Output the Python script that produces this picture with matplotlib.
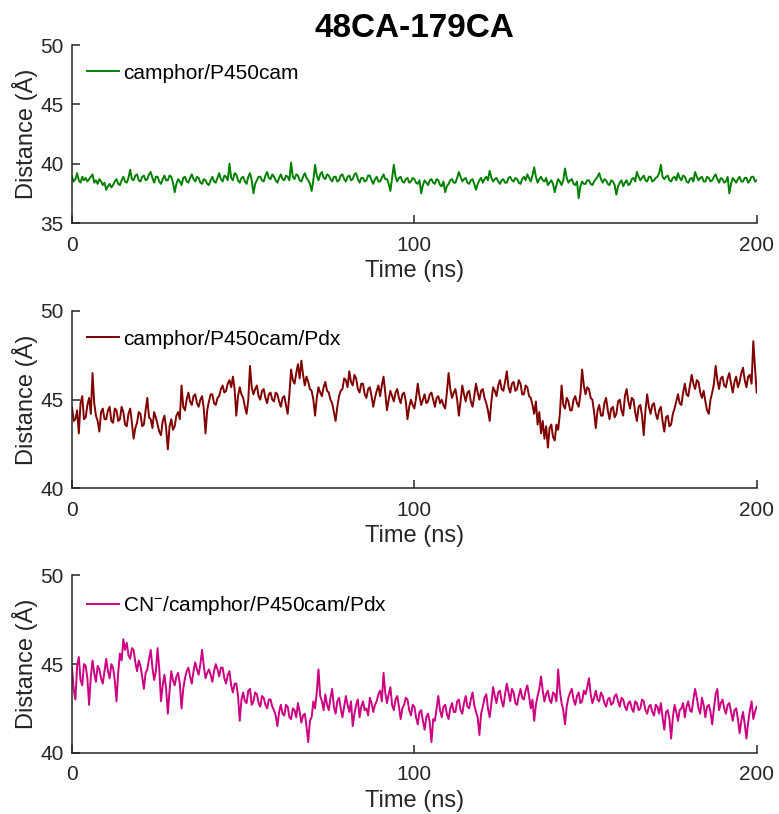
#Distance traces for the 48CA-179CA pair, three systems stacked
import matplotlib
matplotlib.use('Agg')
import matplotlib.pyplot as plt

#camphor/P450cam, one value every 0.5 ns (each row = 5 ns)
dist_p450 = [
    38.9, 38.5, 38.7, 39.2, 38.6, 38.4, 38.9, 38.6, 38.8, 38.5,
    38.7, 38.9, 39.1, 38.4, 38.6, 38.3, 38.7, 38.5, 38.2, 38.4,
    37.8, 38.1, 38.3, 38.0, 38.2, 38.5, 38.7, 38.3, 38.2, 38.6,
    38.9, 38.5, 38.4, 38.8, 39.5, 38.7, 38.6, 39.0, 39.1, 38.6,
    38.5, 38.9, 39.0, 38.6, 38.7, 39.1, 39.3, 38.8, 38.4, 38.9,
    38.9, 38.5, 38.3, 38.7, 39.0, 38.6, 38.6, 39.0, 38.9, 38.4,
    37.6, 38.3, 38.7, 38.5, 38.2, 38.8, 38.9, 38.5, 38.4, 38.8,
    39.1, 38.7, 38.5, 38.9, 38.8, 38.4, 38.3, 38.7, 38.6, 38.3,
    38.2, 38.6, 38.9, 38.5, 38.4, 38.8, 39.2, 38.7, 38.5, 39.0,
    38.9, 38.6, 40.0, 38.8, 38.6, 39.2, 39.1, 38.6, 38.4, 38.8,
    38.9, 38.5, 38.3, 38.9, 39.2, 38.6, 37.5, 38.3, 38.6, 38.9,
    38.9, 38.6, 38.5, 39.0, 39.3, 38.8, 38.7, 39.1, 38.9, 38.6,
    38.4, 38.8, 39.1, 38.7, 38.6, 39.0, 38.9, 38.6, 40.1, 38.9,
    38.7, 39.1, 39.0, 38.6, 38.5, 38.9, 39.2, 38.8, 38.6, 38.3,
    37.7, 38.6, 39.9, 39.0, 38.6, 39.1, 39.3, 38.8, 38.7, 39.1,
    39.0, 38.7, 38.5, 38.9, 38.9, 38.5, 38.6, 39.0, 39.1, 38.7,
    38.5, 38.9, 39.0, 38.6, 38.7, 39.1, 39.2, 38.7, 38.4, 38.8,
    38.8, 38.5, 38.6, 39.0, 39.0, 38.6, 38.3, 38.7, 38.9, 38.5,
    38.5, 38.8, 39.1, 38.7, 38.7, 38.3, 37.7, 38.8, 39.9, 38.9,
    38.5, 38.8, 38.9, 38.5, 38.4, 38.7, 38.8, 38.4, 38.5, 38.8,
    38.7, 38.4, 38.3, 38.6, 37.5, 38.2, 38.6, 38.4, 38.2, 38.6,
    38.7, 38.4, 38.3, 38.7, 38.6, 38.2, 38.1, 38.5, 37.6, 38.1,
    38.3, 38.6, 38.7, 38.4, 38.4, 38.8, 39.3, 38.9, 38.5, 38.7,
    38.8, 38.4, 38.3, 38.6, 38.7, 38.3, 37.8, 38.3, 38.6, 38.8,
    38.4, 38.7, 38.9, 38.6, 39.4, 38.8, 38.5, 38.7, 38.8, 38.5,
    38.3, 38.6, 38.7, 38.4, 38.4, 38.8, 38.9, 38.6, 38.5, 38.8,
    38.7, 38.4, 38.3, 38.7, 38.9, 38.6, 39.1, 38.8, 38.5, 39.0,
    39.7, 38.9, 38.4, 38.7, 38.9, 38.6, 38.5, 38.8, 38.2, 38.4,
    38.6, 38.3, 37.6, 38.2, 38.7, 38.5, 38.2, 38.6, 39.6, 38.8,
    38.4, 38.6, 38.7, 38.3, 38.2, 38.5, 37.1, 38.1, 38.5, 38.3,
    38.3, 38.6, 38.6, 38.3, 38.2, 38.5, 38.7, 38.9, 39.2, 38.7,
    38.4, 38.7, 38.6, 38.3, 38.2, 38.6, 38.5, 38.2, 37.4, 38.1,
    38.4, 38.6, 38.1, 38.4, 38.6, 38.2, 38.3, 38.7, 38.8, 38.5,
    39.3, 38.9, 38.6, 38.8, 39.0, 38.6, 38.5, 38.9, 38.9, 38.5,
    38.6, 38.8, 38.9, 39.2, 39.9, 38.9, 38.7, 38.9, 39.0, 38.6,
    38.5, 38.8, 38.9, 38.6, 39.2, 38.8, 38.6, 39.0, 38.9, 38.5,
    38.4, 38.7, 38.8, 38.5, 39.3, 38.9, 38.6, 38.8, 38.9, 38.5,
    38.5, 38.9, 38.8, 38.5, 38.6, 38.9, 39.1, 38.7, 38.4, 38.8,
    38.7, 38.4, 38.5, 38.9, 37.5, 38.3, 38.8, 38.6, 38.4, 38.7,
    38.9, 38.5, 38.5, 38.8, 38.8, 38.4, 38.6, 38.9, 38.9, 38.5,
    38.6]

#camphor/P450cam/Pdx
dist_pdx = [
    44.6, 43.8, 43.9, 44.4, 43.1, 44.8, 45.2, 43.9, 44.0, 44.7,
    45.1, 44.2, 46.5, 44.8, 44.1, 43.8, 43.2, 44.3, 44.5, 43.9,
    43.9, 44.4, 44.6, 43.8, 43.7, 44.5, 44.4, 43.8, 43.9, 44.6,
    44.3, 43.6, 43.5, 44.2, 44.5, 43.7, 42.8, 43.4, 43.7, 44.3,
    44.2, 43.5, 43.6, 44.4, 45.1, 44.0, 43.9, 43.4, 44.3, 44.0,
    43.6, 43.2, 43.0, 43.8, 44.1, 43.4, 42.2, 43.5, 43.9, 43.3,
    43.5, 44.1, 44.3, 43.9, 45.8, 44.6, 44.4, 45.0, 45.4, 44.9,
    44.7, 45.2, 45.3, 44.8, 44.6, 45.0, 45.2, 44.5, 43.1, 44.4,
    44.9, 45.3, 45.3, 44.8, 44.7, 45.1, 45.2, 45.6, 45.8, 45.4,
    45.5, 45.9, 46.1, 45.7, 46.3, 45.6, 44.1, 45.2, 45.7, 45.3,
    45.1, 44.6, 44.2, 45.0, 46.9, 45.7, 45.3, 45.6, 45.8, 45.2,
    45.0, 45.5, 45.6, 45.1, 44.8, 45.3, 45.4, 45.0, 44.9, 45.4,
    45.3, 44.9, 44.6, 45.1, 45.2, 44.7, 44.2, 45.3, 46.7, 46.1,
    45.9, 46.5, 47.0, 46.2, 47.2, 46.4, 45.8, 46.3, 46.0, 45.6,
    45.5, 45.0, 44.1, 45.1, 45.7, 45.4, 45.2, 45.7, 46.0, 45.5,
    45.4, 45.0, 44.8, 44.3, 43.8, 44.6, 45.2, 45.5, 45.6, 46.2,
    46.1, 45.7, 46.6, 46.0, 45.8, 46.4, 46.2, 45.6, 45.4, 45.9,
    45.9, 45.3, 45.1, 45.6, 45.7, 45.2, 44.6, 45.1, 45.5, 45.8,
    45.2, 45.8, 46.3, 45.4, 44.4, 45.0, 45.5, 45.2, 44.9, 45.4,
    45.6, 45.1, 44.8, 45.3, 45.4, 44.9, 43.9, 44.6, 45.0, 44.7,
    44.5, 45.1, 45.9, 45.2, 44.7, 45.0, 45.3, 44.8, 44.9, 45.3,
    45.4, 45.0, 44.6, 45.1, 45.2, 44.8, 45.0, 44.7, 44.5, 45.4,
    46.5, 45.6, 45.1, 45.4, 45.6, 45.0, 44.1, 44.9, 45.8, 45.3,
    44.9, 45.4, 45.5, 44.9, 44.6, 45.2, 45.9, 45.4, 45.0, 45.5,
    45.6, 45.1, 44.8, 44.4, 43.8, 44.9, 45.7, 45.5, 45.2, 45.8,
    46.1, 45.6, 45.5, 46.0, 46.6, 45.7, 45.4, 45.9, 46.0, 45.5,
    45.6, 46.1, 45.9, 45.3, 45.3, 45.8, 45.7, 45.2, 45.1, 44.7,
    44.2, 44.9, 43.6, 44.3, 43.1, 43.8, 42.8, 43.5, 42.3, 43.4,
    43.6, 42.9, 42.7, 43.6, 43.3, 44.2, 45.8, 44.7, 44.5, 45.1,
    44.9, 44.4, 44.4, 45.0, 45.2, 44.8, 44.6, 45.3, 46.7, 45.8,
    45.3, 45.7, 45.6, 45.1, 45.0, 44.3, 43.4, 44.4, 44.7, 44.1,
    44.1, 44.8, 45.1, 44.4, 43.9, 44.5, 44.6, 44.0, 44.2, 44.9,
    45.0, 44.4, 44.1, 45.2, 45.6, 44.9, 44.5, 45.1, 45.0, 44.3,
    43.8, 44.6, 44.7, 44.1, 43.0, 44.4, 45.3, 44.6, 44.2, 44.7,
    44.8, 44.2, 43.9, 44.4, 44.6, 43.8, 43.2, 44.0, 44.1, 43.5,
    43.6, 44.2, 44.5, 44.9, 45.3, 44.8, 44.7, 45.4, 45.9, 45.3,
    45.2, 45.8, 46.4, 45.9, 45.6, 46.1, 46.0, 45.4, 45.1, 45.5,
    44.9, 44.4, 44.2, 45.0, 45.4, 45.9, 46.9, 46.1, 45.6, 46.2,
    46.3, 45.8, 45.7, 46.2, 46.5, 45.9, 45.4, 46.0, 46.3, 45.7,
    46.0, 46.5, 46.8, 46.1, 45.7, 46.3, 46.4, 45.9, 48.3, 46.8,
    45.4]

#CN-/camphor/P450cam/Pdx
dist_cn = [
    44.8, 43.6, 43.0, 44.9, 45.4, 44.1, 43.8, 45.0, 44.9, 44.2,
    42.7, 44.3, 45.2, 44.5, 44.0, 44.9, 44.7, 44.2, 43.9, 44.6,
    45.3, 44.6, 44.2, 45.0, 44.8, 44.1, 42.9, 44.5, 45.6, 45.2,
    46.4, 45.8, 46.2, 45.5, 45.3, 45.9, 45.8, 45.1, 44.6, 45.2,
    44.9, 44.3, 43.6, 44.5, 44.7, 45.3, 45.8, 44.8, 44.1, 44.6,
    45.9, 44.7, 42.9, 43.8, 44.4, 43.6, 42.2, 43.5, 44.6, 44.1,
    43.8, 44.3, 44.5, 43.9, 42.5, 43.6, 44.2, 44.6, 44.8, 44.3,
    43.9, 44.6, 45.1, 44.7, 44.4, 45.0, 45.8, 44.9, 44.2, 44.5,
    44.7, 44.4, 44.0, 44.6, 45.0, 44.7, 44.3, 44.8, 44.8, 44.2,
    43.9, 44.4, 44.6, 43.8, 43.4, 43.9, 43.9, 43.2, 41.8, 43.0,
    43.4, 42.9, 42.8, 43.5, 43.6, 42.7, 42.9, 43.4, 43.3, 42.8,
    42.6, 43.2, 43.1, 42.7, 42.5, 43.0, 43.0, 42.6, 42.4, 42.1,
    41.5, 42.3, 42.7, 42.2, 42.1, 42.7, 42.6, 42.0, 41.9, 42.5,
    42.4, 42.0, 42.8, 42.3, 41.7, 42.1, 42.2, 41.5, 40.6, 41.8,
    42.0, 42.9, 42.5, 43.4, 44.7, 43.2, 42.9, 42.4, 43.3, 42.7,
    42.4, 43.1, 43.6, 42.6, 42.2, 42.9, 43.1, 42.5, 42.0, 42.6,
    43.2, 42.7, 42.3, 42.9, 41.5, 42.2, 42.7, 43.0, 42.0, 42.6,
    42.9, 42.4, 42.5, 42.1, 43.1, 42.8, 42.3, 42.7, 42.9, 43.3,
    43.5, 42.9, 44.5, 43.4, 42.8, 43.3, 43.7, 42.7, 42.4, 43.0,
    43.2, 42.6, 41.9, 42.5, 42.7, 43.1, 43.0, 42.4, 42.1, 42.7,
    42.6, 42.0, 41.6, 42.3, 42.4, 41.8, 41.3, 42.0, 42.2, 41.7,
    40.6, 41.9, 41.8, 42.5, 43.2, 42.4, 42.0, 42.6, 42.7, 42.2,
    41.9, 42.5, 42.8, 42.3, 42.3, 42.9, 43.0, 42.4, 42.2, 42.8,
    43.2, 42.6, 42.5, 43.0, 43.4, 42.7, 42.3, 42.0, 41.0, 42.2,
    42.6, 43.1, 43.3, 42.5, 42.0, 42.8, 43.7, 43.2, 42.8, 43.4,
    43.5, 42.9, 42.6, 43.3, 43.9, 43.4, 42.9, 43.6, 43.4, 42.8,
    42.7, 43.2, 43.6, 43.1, 43.0, 43.5, 43.8, 43.2, 42.5, 43.0,
    41.8, 42.7, 43.2, 43.6, 44.3, 43.5, 42.9, 43.3, 43.5, 43.0,
    42.8, 43.4, 43.3, 42.9, 44.7, 43.5, 42.8, 42.4, 41.6, 42.6,
    43.1, 43.4, 43.6, 43.0, 42.7, 43.2, 43.4, 42.8, 42.9, 43.5,
    43.3, 43.7, 44.2, 43.3, 42.8, 43.1, 43.5, 43.0, 42.9, 43.4,
    43.2, 42.8, 42.6, 43.0, 43.1, 42.7, 42.8, 43.2, 43.3, 42.9,
    42.6, 43.1, 43.0, 42.6, 42.4, 42.8, 42.9, 42.5, 42.3, 42.9,
    42.8, 42.4, 42.5, 43.0, 42.9, 42.4, 42.2, 42.6, 42.7, 42.3,
    42.1, 42.7, 42.6, 42.2, 42.8, 42.0, 41.3, 42.3, 42.4, 41.9,
    40.8, 42.0, 42.7, 42.3, 41.8, 42.4, 42.5, 42.8, 42.0, 42.6,
    42.9, 42.4, 42.3, 43.0, 43.6, 43.1, 42.5, 42.2, 43.1, 42.7,
    42.0, 42.6, 42.7, 42.3, 41.6, 42.5, 43.3, 43.6, 42.4, 42.8,
    43.0, 42.5, 42.2, 42.7, 42.8, 42.3, 41.8, 42.4, 42.5, 41.9,
    41.1, 41.8, 42.3, 41.6, 40.8, 41.7, 42.4, 42.9, 41.9, 42.3,
    42.6]

#time axis in ns, 0 to 200 in 0.5 ns steps
time_ns = [i * 0.5 for i in range(401)]

labels = ['camphor/P450cam', 'camphor/P450cam/Pdx', 'CN$^{-}$/camphor/P450cam/Pdx']
colours = ['#008000', '#800000', '#cc0080']
y_limits = [(35, 50), (40, 50), (40, 50)]
y_ticks = [[35, 40, 45, 50], [40, 45, 50], [40, 45, 50]]
x_ticks = [0, 100, 200]

plt.rcParams['font.family'] = ['Liberation Sans', 'DejaVu Sans']
plt.rcParams['mathtext.default'] = 'regular'

fig = plt.figure(figsize=(7.79, 8.14), dpi=100)
fig.text(0.532, 0.965, '48CA-179CA', ha='center', va='center',
         fontsize=24, fontweight='bold', color='black')

#axes boxes: left, bottom, width, height
boxes = [[0.0924, 0.726, 0.879, 0.2187],
         [0.0924, 0.400, 0.879, 0.2180],
         [0.0924, 0.0753, 0.879, 0.2177]]
series = [dist_p450, dist_pdx, dist_cn]

for i in range(3):
    ax = fig.add_axes(boxes[i])
    ax.plot(time_ns, series[i], color=colours[i], lw=1.4, label=labels[i])
    ax.set_xlim(0, 200)
    ax.set_ylim(y_limits[i])
    ax.set_xticks(x_ticks)
    ax.set_yticks(y_ticks[i])
    ax.spines['top'].set_visible(False)
    ax.spines['right'].set_visible(False)
    for s in ['left', 'bottom']:
        ax.spines[s].set_color('#262626')
        ax.spines[s].set_linewidth(1.1)
    ax.tick_params(direction='in', length=5.5, width=1.1, colors='#262626',
                   labelsize=15)
    ax.tick_params(axis='x', pad=9)
    ax.tick_params(axis='y', pad=6)
    ax.set_xlabel('Time (ns)', fontsize=17, color='#262626', labelpad=4)
    ax.set_ylabel('Distance (Å)', fontsize=17, color='#262626', labelpad=1.5)
    ax.legend(loc='upper left', frameon=False, fontsize=15, handlelength=1.55,
              handletextpad=0.2, borderaxespad=0.5, bbox_to_anchor=(-0.006, 1.0))

plt.savefig('out.png', dpi=100)
